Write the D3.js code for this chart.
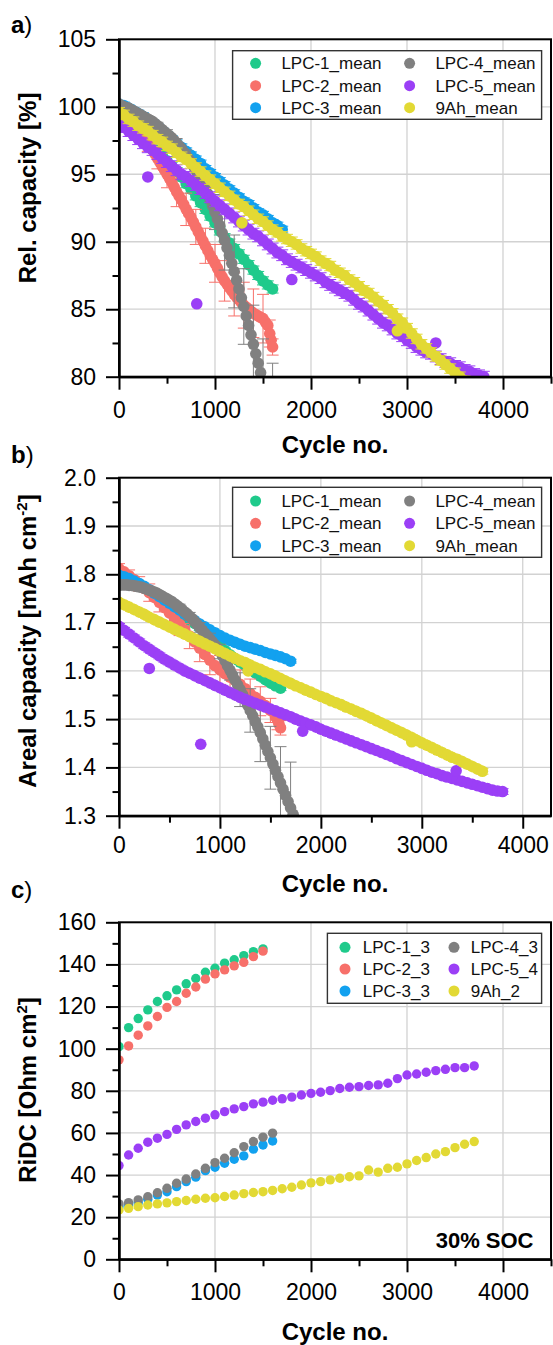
<!DOCTYPE html>
<html>
<head>
<meta charset="utf-8">
<script src="https://cdn.jsdelivr.net/npm/d3@7"></script>
<style>
  body { margin: 0; background: #fff; }
  svg { display: block; font-family: "Liberation Sans", Arial, sans-serif; }
</style>
</head>
<body>
<div id="chart"></div>
<script>
// ---- data ----
const meanNames = ['LPC-1_mean', 'LPC-2_mean', 'LPC-3_mean', 'LPC-4_mean', 'LPC-5_mean', '9Ah_mean']
const ridcNames = ['LPC-1_3', 'LPC-2_3', 'LPC-3_3', 'LPC-4_3', 'LPC-5_4', '9Ah_2']
const colors = ['#1fca8b', '#f7706a', '#12a1ef', '#808080', '#9b3ff6', '#e2d934']

// cycle grids: mean curves every 50 (steep ones every 25), RiDC check-ups every 100
const cyc25 = d3.range(0, 1751, 25)
const cyc50 = d3.range(0, 3801, 50)
const cyc100 = d3.range(0, 3701, 100)
const cycRed = cyc50.slice(0, 32).concat([1570, 1585, 1600])
const cycRed25 = cyc25.slice(0, 63).concat([1570, 1585, 1600])

// a) relative capacity [%]
const relLPC1 = [100.0,99.6,99.2,98.8,98.4,98.0,97.6,97.2,96.8,96.4,96.0,95.6,95.2,94.8,94.3,93.9,93.4,92.9,92.4,91.9,91.4,90.8,90.3,89.9,89.5,89.1,88.7,88.3,87.9,87.5,87.1,86.8,86.5]
const relLPC2 = [100.0,99.8,99.6,99.4,99.2,99.0,98.8,98.55,98.3,98.05,97.8,97.55,97.3,97.05,96.8,96.5,96.2,95.9,95.6,95.3,
  95.0,94.7,94.4,94.05,93.7,93.4,93.1,92.75,92.4,92.1,91.8,91.45,91.1,90.75,90.4,90.05,89.7,89.35,89.0,88.7,
  88.4,88.05,87.7,87.4,87.1,86.85,86.6,86.35,86.1,85.9,85.7,85.5,85.3,85.15,85.0,84.85,84.7,84.6,84.5,84.4,
  84.3,84.05,83.8,83.2,82.7,82.2]
const relLPC3 = [100.2,100.1,99.9,99.7,99.5,99.3,99.0,98.8,98.5,98.2,97.9,97.6,97.3,97.0,96.7,96.4,96.1,95.8,95.4,95.1,94.8,94.5,94.2,93.9,93.6,93.3,93.0,92.8,92.5,92.2,92.0,91.7,91.4,91.2,90.9]
const relLPC4 = [100.2,100.1,100.0,99.95,99.9,99.8,99.7,99.6,99.5,99.4,99.3,99.2,99.1,99.0,98.9,98.75,98.6,98.45,98.3,98.15,
  98.0,97.85,97.7,97.5,97.3,97.1,96.9,96.65,96.4,96.15,95.9,95.6,95.3,95.0,94.7,94.35,94.0,93.55,93.1,92.65,
  92.2,91.7,91.2,90.65,90.1,89.55,89.0,88.4,87.8,87.15,86.5,85.85,85.2,84.5,83.8,83.1,82.4,81.7,81.0,80.3,
  79.6,78.9,78.2,77.5,76.8,76.1,75.4,74.7,74.0]
const relLPC5 = [98.8,98.5,98.2,97.9,97.6,97.3,97.0,96.8,96.5,96.2,95.9,95.6,95.3,95.0,94.8,94.5,94.2,93.9,93.6,93.3,
  93.0,92.7,92.4,92.1,91.8,91.5,91.2,90.9,90.6,90.4,90.1,89.8,89.5,89.2,89.0,88.7,88.5,88.3,88.1,87.9,
  87.7,87.5,87.3,87.0,86.8,86.6,86.4,86.2,86.0,85.7,85.4,85.2,84.9,84.6,84.3,84.0,83.8,83.5,83.2,83.0,
  82.7,82.5,82.2,82.0,81.8,81.7,81.5,81.3,81.1,81.0,80.8,80.7,80.5,80.4,80.2,80.1,80.0]
const rel9Ah = [99.6,99.4,99.1,98.9,98.6,98.4,98.2,97.9,97.6,97.4,97.1,96.9,96.6,96.3,96.1,95.8,95.5,95.2,94.9,94.6,
  94.3,94.0,93.7,93.4,93.1,92.8,92.6,92.3,92.0,91.7,91.5,91.2,90.9,90.7,90.4,90.2,90.0,89.8,89.5,89.3,
  89.1,88.9,88.6,88.4,88.2,87.9,87.7,87.5,87.2,87.0,86.7,86.4,86.2,85.9,85.6,85.3,85.0,84.7,84.3,84.0,
  83.6,83.2,82.8,82.4,82.1,81.8,81.5,81.2,80.9,80.6,80.3,80.0,79.7]
// [cycle, +/- error]
const relErrLPC2 = [[0,0.1],[100,0.2],[200,0.4],[300,0.6],[400,0.8],[500,1.0],[600,1.1],[700,1.2],[800,1.3],[900,1.3],
  [1000,1.4],[1100,1.5],[1200,1.6],[1300,1.7],[1400,1.8],[1500,1.8],[1570,1.0],[1600,0.6]]
const relErrLPC4 = [[0,0.1],[100,0.1],[200,0.15],[300,0.2],[400,0.25],[500,0.3],[600,0.35],[700,0.4],[800,0.5],[900,0.6],
  [1000,1.3],[1100,2.2],[1200,2.7],[1300,2.8],[1400,2.9],[1500,3.2],[1600,4.2],[1700,4.8]]
const relOutLPC5 = [[300, 94.8], [810, 85.4], [1800, 87.2], [3300, 82.5]]
const relOut9Ah = [[1280, 91.4], [2900, 83.4]]

// b) areal capacity [mAh cm-2]
const arLPC1 = [1.808,1.801,1.793,1.786,1.779,1.772,1.765,1.757,1.750,1.743,1.736,1.728,1.721,1.714,1.705,1.698,1.689,1.680,1.671,1.662,1.653,1.642,1.633,1.625,1.618,1.611,1.604,1.596,1.589,1.582,1.575,1.569,1.564]
const arLPC2 = [1.812,1.805,1.797,1.789,1.780,1.771,1.762,1.752,1.742,1.731,1.720,1.709,1.697,1.685,1.672,1.660,1.647,1.634,1.622,1.611,1.602,1.594,1.587,1.580,1.572,1.563,1.553,1.545,1.537,1.528,1.518,1.505,1.498,1.490,1.482]
const arLPC3 = [1.798,1.795,1.791,1.786,1.781,1.775,1.768,1.761,1.754,1.747,1.740,1.733,1.726,1.718,1.711,1.704,1.697,1.691,1.685,1.679,1.673,1.668,1.663,1.659,1.655,1.651,1.648,1.645,1.642,1.638,1.635,1.632,1.629,1.625,1.620]
const arLPC4 = [1.778,1.778,1.778,1.778,1.777,1.777,1.776,1.775,1.774,1.773,1.771,1.769,1.767,1.765,1.763,1.761,1.758,1.755,1.752,1.749,
  1.746,1.743,1.739,1.735,1.731,1.727,1.722,1.718,1.713,1.708,1.702,1.696,1.690,1.684,1.678,1.672,1.666,1.660,1.654,1.647,
  1.640,1.631,1.621,1.611,1.601,1.591,1.581,1.571,1.561,1.551,1.540,1.529,1.518,1.507,1.495,1.484,1.472,1.459,1.446,1.433,
  1.420,1.407,1.394,1.381,1.368,1.355,1.342,1.329,1.316,1.303,1.290]
const arLPC5 = [1.692,1.684,1.676,1.668,1.660,1.652,1.645,1.638,1.631,1.624,1.618,1.612,1.606,1.600,1.595,1.590,1.585,1.580,1.575,1.570,
  1.565,1.560,1.555,1.550,1.545,1.541,1.537,1.533,1.529,1.525,1.521,1.517,1.513,1.509,1.505,1.500,1.496,1.492,1.488,1.484,
  1.479,1.475,1.471,1.467,1.463,1.459,1.455,1.451,1.447,1.443,1.439,1.435,1.431,1.427,1.423,1.418,1.414,1.410,1.406,1.402,
  1.398,1.394,1.390,1.387,1.383,1.380,1.377,1.374,1.371,1.368,1.365,1.362,1.359,1.356,1.353,1.351,1.350]
const ar9Ah = [1.742,1.737,1.732,1.727,1.722,1.717,1.711,1.706,1.701,1.696,1.691,1.686,1.681,1.676,1.671,1.666,1.661,1.656,1.651,1.646,
  1.641,1.636,1.631,1.626,1.621,1.617,1.612,1.607,1.603,1.598,1.594,1.589,1.584,1.579,1.574,1.569,1.565,1.560,1.556,1.551,
  1.547,1.543,1.538,1.534,1.530,1.525,1.521,1.516,1.512,1.507,1.502,1.497,1.492,1.487,1.482,1.477,1.472,1.467,1.462,1.456,
  1.451,1.446,1.441,1.436,1.431,1.426,1.421,1.417,1.412,1.407,1.402,1.397,1.392]
const arErrLPC2 = [[0,0.01],[100,0.012],[200,0.015],[300,0.018],[400,0.02],[500,0.022],[600,0.024],[700,0.026],[800,0.028],[900,0.03],
  [1000,0.03],[1100,0.03],[1200,0.03],[1300,0.03],[1400,0.03],[1500,0.025],[1570,0.02],[1600,0.015]]
const arErrLPC4 = [[0,0.004],[100,0.004],[200,0.005],[300,0.005],[400,0.006],[500,0.006],[600,0.007],[700,0.008],[800,0.01],[900,0.012],
  [1000,0.015],[1100,0.02],[1200,0.035],[1300,0.045],[1400,0.06],[1500,0.065],[1600,0.075],[1700,0.095]]
const arOutLPC5 = [[300, 1.605], [810, 1.448], [1820, 1.475], [3340, 1.393]]
const arOut9Ah = [[1280, 1.600], [2900, 1.453]]

// c) RiDC [Ohm cm2] at 30 % SOC
const ridcLPC1 = [101.0,110.0,114.3,118.4,122.4,125.1,127.9,130.8,133.3,136.3,138.2,140.6,142.2,144.2,146.1,147.4]
const ridcLPC2 = [94.7,101.3,106.4,110.8,115.3,119.6,122.4,126.3,129.3,133.0,135.5,137.4,139.3,141.0,143.7,146.3]
const ridcLPC3 = [25.0,25.8,26.9,28.5,30.5,32.1,34.5,36.9,39.0,42.1,43.7,45.6,47.5,49.1,52.3,54.3,56.2]
const ridcLPC4 = [26.3,26.9,28.2,29.7,31.6,33.7,36.1,38.1,40.5,43.2,45.9,48.0,50.6,53.5,55.9,58.0,59.9]
const ridcLPC5 = [44.5,49.5,52.7,55.6,57.5,59.3,61.7,63.8,65.4,67.0,68.6,70.1,71.4,72.5,73.8,74.6,75.5,76.2,77.0,78.0,
  78.8,79.3,80.1,81.1,81.7,82.0,82.5,82.8,83.6,85.8,87.5,88.0,88.8,89.6,90.2,91.0,91.0,91.8]
const ridc9Ah = [23.4,24.2,25.0,25.8,26.3,26.8,27.4,27.9,28.5,29.0,29.2,29.8,30.5,31.2,31.7,32.1,32.7,33.5,34.2,35.3,
  36.3,36.9,37.7,38.5,39.2,39.6,42.4,41.4,43.2,43.7,45.3,46.9,48.3,50.0,51.1,53.0,54.6,55.9]

const xTicks = [0, 1000, 2000, 3000, 4000]
const xMinor = [500, 1500, 2500, 3500, 4500]

// ---- drawing ----
const W = 553, H = 1345
const L = 119, R = 551
const svg = d3.select('#chart').append('svg').attr('width', W).attr('height', H)

// err: a number (every point) or a list of [cycle, error] pairs
function series(cx, vals, color, err, extra) {
  const pts = vals.map(function (v, i) {
    return {c: cx[i], v: v, e: typeof err === 'number' ? err : 0}
  })
  if (Array.isArray(err)) {
    err.forEach(function (pe) {
      const p = pts.find(function (q) { return q.c === pe[0] })
      if (p) p.e = pe[1]
    })
  }
  ;(extra || []).forEach(function (p) { pts.push({c: p[0], v: p[1], e: 0}) })
  return {color: color, pts: pts}
}

function panel(cfg) {
  const x = d3.scaleLinear().domain(cfg.xDomain).range([L, R])
  const y = d3.scaleLinear().domain(cfg.yDomain).range([cfg.bottom, cfg.top])
  const g = svg.append('g')

  // grid
  g.append('g').selectAll('line').data(xTicks.filter(function (t) { return t > 0 }))
    .enter().append('line')
    .attr('x1', function (d) { return x(d) }).attr('x2', function (d) { return x(d) })
    .attr('y1', cfg.top).attr('y2', cfg.bottom)
    .attr('stroke', '#d2d2d2').attr('stroke-width', 1.3)
  g.append('g').selectAll('line').data(cfg.yTicks.slice(1, -1))
    .enter().append('line')
    .attr('y1', function (d) { return y(d) }).attr('y2', function (d) { return y(d) })
    .attr('x1', L).attr('x2', R)
    .attr('stroke', '#d2d2d2').attr('stroke-width', 1.3)

  // data, clipped to the frame
  const clipId = 'clip-' + cfg.id
  svg.append('clipPath').attr('id', clipId).append('rect')
    .attr('x', L).attr('y', cfg.top).attr('width', R - L).attr('height', cfg.bottom - cfg.top)
  const dg = g.append('g').attr('clip-path', 'url(#' + clipId + ')')
  cfg.series.forEach(function (s) {
    const eg = dg.append('g').attr('stroke', s.color).attr('stroke-width', 1)
    s.pts.filter(function (p) { return p.e > 0 }).forEach(function (p) {
      const px = x(p.c)
      eg.append('line').attr('x1', px).attr('x2', px).attr('y1', y(p.v - p.e)).attr('y2', y(p.v + p.e))
      eg.append('line').attr('x1', px - 6).attr('x2', px + 6).attr('y1', y(p.v - p.e)).attr('y2', y(p.v - p.e))
      eg.append('line').attr('x1', px - 6).attr('x2', px + 6).attr('y1', y(p.v + p.e)).attr('y2', y(p.v + p.e))
    })
    dg.append('g').selectAll('circle').data(s.pts).enter().append('circle')
      .attr('cx', function (d) { return x(d.c) })
      .attr('cy', function (d) { return y(d.v) })
      .attr('r', cfg.r)
      .attr('fill', s.color)
  })

  // frame
  g.append('rect').attr('x', L).attr('y', cfg.top).attr('width', R - L).attr('height', cfg.bottom - cfg.top)
    .attr('fill', 'none').attr('stroke', '#000').attr('stroke-width', 2)

  // axes
  const yAxis = d3.axisLeft(y).tickValues(cfg.yTicks).tickSize(13).tickSizeOuter(0).tickPadding(10)
    .tickFormat(cfg.yFormat)
  g.append('g').attr('transform', 'translate(' + L + ',0)').call(yAxis)
  g.append('g').attr('transform', 'translate(' + L + ',0)')
    .call(d3.axisLeft(y).tickValues(cfg.yMinor).tickSize(6.5).tickSizeOuter(0).tickFormat(''))
  const xAxis = d3.axisBottom(x).tickValues(xTicks).tickSize(13).tickSizeOuter(0).tickPadding(cfg.xPad)
    .tickFormat(d3.format('d'))
  g.append('g').attr('transform', 'translate(0,' + cfg.bottom + ')').call(xAxis)
  g.append('g').attr('transform', 'translate(0,' + cfg.bottom + ')')
    .call(d3.axisBottom(x).tickValues(xMinor.filter(function (t) { return t <= cfg.xDomain[1] }))
      .tickSize(7).tickSizeOuter(0).tickFormat(''))
  g.selectAll('.domain').attr('stroke', '#000').attr('stroke-width', 2)
  g.selectAll('.tick line').attr('stroke', '#000').attr('stroke-width', 2)
  g.selectAll('.tick text').attr('font-size', 23).attr('fill', '#000')
    .attr('font-family', '"Liberation Sans", Arial, sans-serif')

  // titles
  g.append('text').attr('x', (L + R) / 2).attr('y', cfg.xTitleY).attr('text-anchor', 'middle')
    .attr('font-size', 24).attr('font-weight', 'bold').text('Cycle no.')
  const yt = g.append('text').attr('transform', 'translate(36,' + cfg.yTitleC + ') rotate(-90)')
    .attr('text-anchor', 'middle').attr('font-size', 24).attr('font-weight', 'bold')
  yt.append('tspan').text(cfg.yTitle[0])
  if (cfg.yTitle[1]) {
    yt.append('tspan').attr('dy', -9).attr('font-size', 15).text(cfg.yTitle[1])
    yt.append('tspan').attr('dy', 9).text(cfg.yTitle[2])
  }
  const pl = g.append('text').attr('x', 11).attr('y', cfg.labelY).attr('font-size', 24)
  pl.append('tspan').attr('font-weight', 'bold').text(cfg.label)
  pl.append('tspan').text(')')

  // legend
  const lg = cfg.legend
  g.append('rect').attr('x', lg.x0).attr('y', lg.y0).attr('width', lg.x1 - lg.x0).attr('height', lg.y1 - lg.y0)
    .attr('fill', '#fff').attr('stroke', '#333').attr('stroke-width', 1.4)
  lg.names.forEach(function (n, i) {
    const col = Math.floor(i / 3), row = i % 3
    const cy = lg.rows[row]
    g.append('circle').attr('cx', lg.mx[col]).attr('cy', cy).attr('r', 5.5).attr('fill', colors[i])
    g.append('text').attr('x', lg.tx[col]).attr('y', cy + 6).attr('font-size', 17).attr('fill', '#111').text(n)
  })
  return {x: x, y: y, g: g}
}

panel({
  id: 'a', top: 39.3, bottom: 376.7, xDomain: [0, 4500], yDomain: [80, 105],
  yTicks: [80, 85, 90, 95, 100, 105], yMinor: [82.5, 87.5, 92.5, 97.5, 102.5], yFormat: d3.format('d'),
  xPad: 12, xTitleY: 453, yTitleC: 188, yTitle: ['Rel. capacity [%]'], label: 'a', labelY: 33, r: 5.8,
  series: [
    series(cyc50, relLPC1, colors[0], 0.3),
    series(cycRed25, relLPC2, colors[1], relErrLPC2),
    series(cyc50, relLPC3, colors[2], 0.25),
    series(cyc25, relLPC4, colors[3], relErrLPC4),
    series(cyc50, relLPC5, colors[4], 0.4, relOutLPC5),
    series(cyc50, rel9Ah, colors[5], 0.35, relOut9Ah)
  ],
  legend: {x0: 232.6, x1: 541.6, y0: 50.7, y1: 119.3, rows: [63.3, 85.7, 107.7], mx: [255.6, 409.6], tx: [281.4, 435.4], names: meanNames}
})

panel({
  id: 'b', top: 477.7, bottom: 815.7, xDomain: [0, 4280], yDomain: [1.3, 2.0],
  yTicks: [1.3, 1.4, 1.5, 1.6, 1.7, 1.8, 1.9, 2.0], yMinor: [1.35, 1.45, 1.55, 1.65, 1.75, 1.85, 1.95], yFormat: d3.format('.1f'),
  xPad: 8, xTitleY: 892, yTitleC: 641, yTitle: ['Areal capacity [mAh cm', '-2', ']'], label: 'b', labelY: 463, r: 5.8,
  series: [
    series(cyc50, arLPC1, colors[0], 0.005),
    series(cycRed, arLPC2, colors[1], arErrLPC2),
    series(cyc50, arLPC3, colors[2], 0.004),
    series(cyc25, arLPC4, colors[3], arErrLPC4),
    series(cyc50, arLPC5, colors[4], 0.006, arOutLPC5),
    series(cyc50, ar9Ah, colors[5], 0.006, arOut9Ah)
  ],
  legend: {x0: 232.6, x1: 541.6, y0: 487.3, y1: 557.3, rows: [501, 523.3, 545.7], mx: [255.6, 409.6], tx: [281.4, 435.4], names: meanNames}
})

const pc = panel({
  id: 'c', top: 922.3, bottom: 1259.3, xDomain: [0, 4500], yDomain: [0, 160],
  yTicks: [0, 20, 40, 60, 80, 100, 120, 140, 160], yMinor: [10, 30, 50, 70, 90, 110, 130, 150], yFormat: d3.format('d'),
  xPad: 11, xTitleY: 1340, yTitleC: 1090, yTitle: ['RiDC [Ohm cm', '2', ']'], label: 'c', labelY: 898, r: 4.7,
  series: [
    series(cyc100, ridcLPC1, colors[0]),
    series(cyc100, ridcLPC2, colors[1]),
    series(cyc100, ridcLPC3, colors[2]),
    series(cyc100, ridcLPC4, colors[3]),
    series(cyc100, ridcLPC5, colors[4]),
    series(cyc100, ridc9Ah, colors[5])
  ],
  legend: {x0: 327.4, x1: 541.6, y0: 933.3, y1: 1003.3, rows: [947.3, 969, 991], mx: [345, 454], tx: [362.8, 470.8], names: ridcNames}
})
pc.g.append('text').attr('x', 533.5).attr('y', 1248).attr('text-anchor', 'end')
  .attr('font-size', 22).attr('font-weight', 'bold').text('30% SOC')
</script>
</body>
</html>
